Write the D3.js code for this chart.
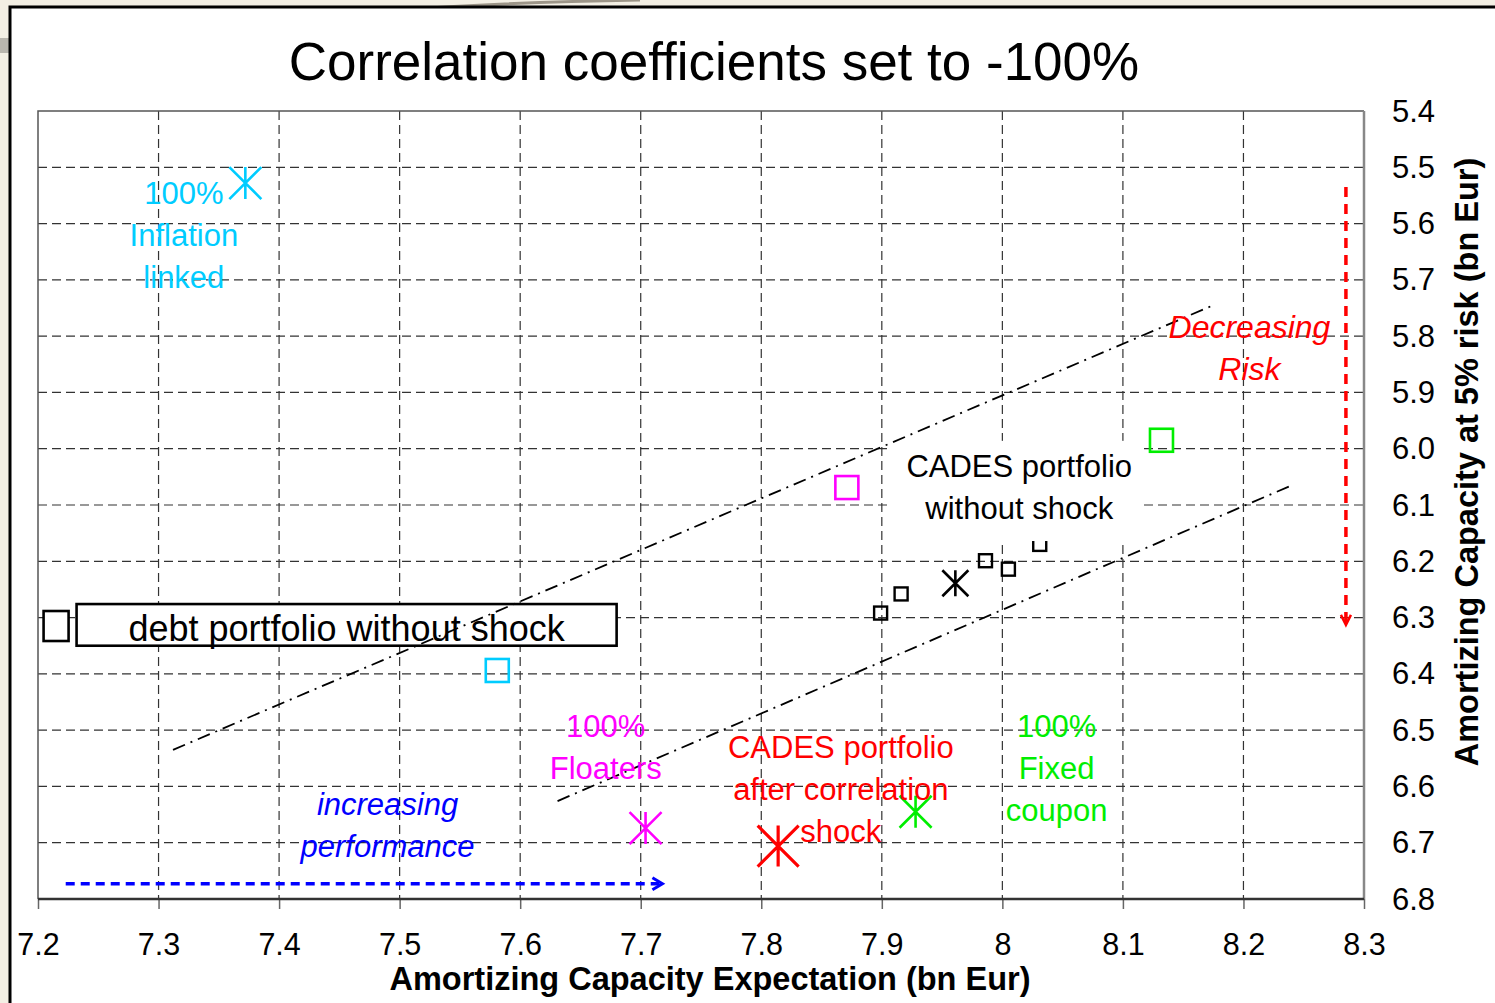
<!DOCTYPE html>
<html>
<head>
<meta charset="utf-8">
<script src="https://cdn.jsdelivr.net/npm/d3@7"></script>
<style>
body { margin: 0; background: #f3efe4; }
svg { display: block; font-family: 'Liberation Sans', Arial, sans-serif; }
</style>
</head>
<body>
<div id="graph"></div>
<script>
var width = 1495, height = 1003

var xTicks = [7.2, 7.3, 7.4, 7.5, 7.6, 7.7, 7.8, 7.9, 8.0, 8.1, 8.2, 8.3]
var xLabels = ['7.2', '7.3', '7.4', '7.5', '7.6', '7.7', '7.8', '7.9', '8', '8.1', '8.2', '8.3']
var yTicks = [5.4, 5.5, 5.6, 5.7, 5.8, 5.9, 6.0, 6.1, 6.2, 6.3, 6.4, 6.5, 6.6, 6.7, 6.8]
var yLabels = ['5.4', '5.5', '5.6', '5.7', '5.8', '5.9', '6.0', '6.1', '6.2', '6.3', '6.4', '6.5', '6.6', '6.7', '6.8']

// 100% portfolios without shock (squares): inflation linked, floaters, fixed coupon
var squareX = [7.581, 7.871, 8.132]
var squareY = [6.394, 6.069, 5.985]

// after correlation shock (asterisks): inflation linked, floaters, fixed coupon, CADES, CADES w/o shock
var starX = [7.372, 7.704, 7.928, 7.814, 7.961]
var starY = [5.528, 6.674, 6.645, 6.706, 6.239]

// CADES portfolio without shock, small squares
var cadesX = [7.899, 7.916, 7.986, 8.005, 8.031]
var cadesY = [6.292, 6.258, 6.199, 6.214, 6.170]

// debt portfolio without shock
var debtX = [7.215]
var debtY = [6.315]

// dash-dot band
var bandX = [[7.312, 8.174], [7.631, 8.239]]
var bandY = [[6.535, 5.746], [6.626, 6.066]]

var squareColor = ['#00ccff', '#ff00ff', '#00ee00']
var starColor = ['#00ccff', '#ff00ff', '#00ee00', '#ff0000', '#000']
var starSize = [32, 32, 32, 41, 26]

var x = d3.scaleLinear().domain([7.2, 8.3]).range([38, 1364])
var y = d3.scaleLinear().domain([5.4, 6.8]).range([111, 899])

var svg = d3.select('#graph').html('').append('svg')
    .attr('width', width).attr('height', height)

// slide background + frame
svg.append('rect').attr('width', width).attr('height', height).attr('fill', '#f3efe4')
svg.append('rect').attr('x', 0).attr('y', 38).attr('width', 10).attr('height', 15).attr('fill', '#b9b6ae')
svg.append('path').attr('d', 'M430,8 Q520,2 640,0').attr('stroke', '#9c9588').attr('stroke-width', 3).attr('fill', 'none')
svg.append('rect').attr('x', 10).attr('y', 7).attr('width', width + 10).attr('height', height + 10)
    .attr('fill', '#fff').attr('stroke', '#000').attr('stroke-width', 3)

svg.append('text').attr('x', 714).attr('y', 80).attr('text-anchor', 'middle')
    .attr('font-size', 53).text('Correlation coefficients set to -100%')

// grid
var grid = svg.append('g').attr('stroke', '#333').attr('stroke-width', 1.2).attr('stroke-dasharray', '9,5')
grid.selectAll('line.v').data(xTicks.slice(1, -1)).enter().append('line')
    .attr('x1', d => x(d)).attr('x2', d => x(d)).attr('y1', y(5.4)).attr('y2', y(6.8))
grid.selectAll('line.h').data(yTicks.slice(1, -1)).enter().append('line')
    .attr('y1', d => y(d)).attr('y2', d => y(d)).attr('x1', x(7.2)).attr('x2', x(8.3))

// axes
var xAxis = svg.append('g').attr('transform', 'translate(0,' + y(6.8) + ')')
    .call(d3.axisBottom(x).tickValues(xTicks).tickFormat((d, i) => xLabels[i]).tickSize(10).tickPadding(24))
xAxis.select('.domain').remove()
xAxis.selectAll('line').attr('stroke', '#666').attr('stroke-width', 1.5)
xAxis.selectAll('text').attr('font-size', 30.5).attr('fill', '#000').attr('font-family', 'Liberation Sans, Arial')

var yAxis = svg.append('g').attr('transform', 'translate(' + x(8.3) + ',0)')
    .call(d3.axisRight(y).tickValues(yTicks).tickFormat((d, i) => yLabels[i]).tickSize(0).tickPadding(28))
yAxis.select('.domain').remove()
yAxis.selectAll('text').attr('font-size', 31).attr('fill', '#000').attr('dy', 10).attr('font-family', 'Liberation Sans, Arial')

// plot border
svg.append('path').attr('d', 'M' + x(7.2) + ',' + y(6.8) + 'V' + y(5.4) + 'H' + x(8.3))
    .attr('fill', 'none').attr('stroke', '#555').attr('stroke-width', 1.5)
svg.append('line').attr('x1', x(8.3)).attr('x2', x(8.3)).attr('y1', y(5.4)).attr('y2', y(6.8))
    .attr('stroke', '#888').attr('stroke-width', 2.5)
svg.append('line').attr('x1', x(7.2)).attr('x2', x(8.3)).attr('y1', y(6.8)).attr('y2', y(6.8))
    .attr('stroke', '#333').attr('stroke-width', 2.5)

svg.append('text').attr('x', 710).attr('y', 990).attr('text-anchor', 'middle')
    .attr('font-size', 32.5).attr('font-weight', 'bold').text('Amortizing Capacity Expectation (bn Eur)')
svg.append('text').attr('transform', 'translate(1478,462) rotate(-90)').attr('text-anchor', 'middle')
    .attr('font-size', 32.5).attr('font-weight', 'bold').text('Amortizing Capacity at 5% risk (bn Eur)')

// markers
function star(s){
  var h = s / 2
  return 'M0,' + -h + 'V' + h + 'M' + -h + ',' + -h + 'L' + h + ',' + h + 'M' + h + ',' + -h + 'L' + -h + ',' + h
}

svg.append('g').selectAll('path').data(starX).enter().append('path')
    .attr('transform', (d, i) => 'translate(' + x(d) + ',' + y(starY[i]) + ')')
    .attr('d', (d, i) => star(starSize[i]))
    .attr('fill', 'none').attr('stroke', (d, i) => starColor[i]).attr('stroke-width', (d, i) => i == 3 ? 3.2 : 2.6)

svg.append('g').selectAll('rect').data(squareX).enter().append('rect')
    .attr('x', d => x(d) - 11.5).attr('y', (d, i) => y(squareY[i]) - 11.5)
    .attr('width', 23).attr('height', 23)
    .attr('fill', 'none').attr('stroke', (d, i) => squareColor[i]).attr('stroke-width', 2.6)

svg.append('g').selectAll('rect').data(cadesX).enter().append('rect')
    .attr('x', d => x(d) - 6.5).attr('y', (d, i) => y(cadesY[i]) - 6.5)
    .attr('width', 13).attr('height', 13)
    .attr('fill', 'none').attr('stroke', '#000').attr('stroke-width', 2.4)

svg.append('g').selectAll('rect').data(debtX).enter().append('rect')
    .attr('x', d => x(d) - 12.5).attr('y', (d, i) => y(debtY[i]) - 15)
    .attr('width', 25).attr('height', 30)
    .attr('fill', '#fff').attr('stroke', '#000').attr('stroke-width', 2.6)

// label boxes
svg.append('rect').attr('x', x(7.232)).attr('y', y(6.276))
    .attr('width', x(7.680) - x(7.232)).attr('height', y(6.350) - y(6.276))
    .attr('fill', '#fff').attr('stroke', '#000').attr('stroke-width', 2.6)
svg.append('text').attr('x', x(7.456)).attr('y', y(6.342)).attr('text-anchor', 'middle')
    .attr('font-size', 36).text('debt portfolio without shock')

svg.append('rect').attr('x', x(7.907)).attr('y', y(5.986))
    .attr('width', x(8.116) - x(7.907)).attr('height', y(6.164) - y(5.986)).attr('fill', '#fff')

// dash-dot band lines
svg.append('g').selectAll('line').data(bandX).enter().append('line')
    .attr('x1', d => x(d[0])).attr('x2', d => x(d[1]))
    .attr('y1', (d, i) => y(bandY[i][0])).attr('y2', (d, i) => y(bandY[i][1]))
    .attr('stroke', '#000').attr('stroke-width', 1.8).attr('stroke-dasharray', '13,6,2,6')

// arrows
svg.append('line').attr('x1', x(8.285)).attr('x2', x(8.285)).attr('y1', y(5.535)).attr('y2', y(6.313) - 3)
    .attr('stroke', '#ff0000').attr('stroke-width', 3.5).attr('stroke-dasharray', '10,7')
svg.append('path').attr('d', 'M' + (x(8.285) - 5) + ',' + (y(6.313) - 10) + 'L' + x(8.285) + ',' + y(6.313) + 'L' + (x(8.285) + 5) + ',' + (y(6.313) - 10))
    .attr('fill', 'none').attr('stroke', '#ff0000').attr('stroke-width', 2.5)

svg.append('line').attr('x1', x(7.223)).attr('x2', x(7.718) - 3).attr('y1', y(6.773)).attr('y2', y(6.773))
    .attr('stroke', '#0000ff').attr('stroke-width', 3.5).attr('stroke-dasharray', '9,6')
svg.append('path').attr('d', 'M' + (x(7.718) - 10) + ',' + (y(6.773) - 6) + 'L' + x(7.718) + ',' + y(6.773) + 'L' + (x(7.718) - 10) + ',' + (y(6.773) + 6))
    .attr('fill', 'none').attr('stroke', '#0000ff').attr('stroke-width', 3)

// annotations
var notes = [
  {lines: ['100%', 'Inflation', 'linked'], x: 7.321, y: 5.565, color: '#00ccff'},
  {lines: ['Decreasing', 'Risk'], x: 8.205, y: 5.803, color: '#ff0000', italic: true, size: 32},
  {lines: ['CADES portfolio', 'without shock'], x: 8.014, y: 6.050, color: '#000'},
  {lines: ['100%', 'Floaters'], x: 7.671, y: 6.512, color: '#ff00ff'},
  {lines: ['CADES portfolio', 'after correlation', 'shock'], x: 7.866, y: 6.549, color: '#ff0000'},
  {lines: ['100%', 'Fixed', 'coupon'], x: 8.045, y: 6.512, color: '#00ee00'},
  {lines: ['increasing', 'performance'], x: 7.490, y: 6.651, color: '#0000ff', italic: true}
]

notes.forEach(function(n){
  var t = svg.append('text').attr('text-anchor', 'middle').attr('font-size', n.size || 31)
      .attr('fill', n.color).attr('font-style', n.italic ? 'italic' : 'normal')
  n.lines.forEach(function(l, i){
    t.append('tspan').attr('x', x(n.x)).attr('y', y(n.y) + i * 42).text(l)
  })
})
</script>
</body>
</html>
